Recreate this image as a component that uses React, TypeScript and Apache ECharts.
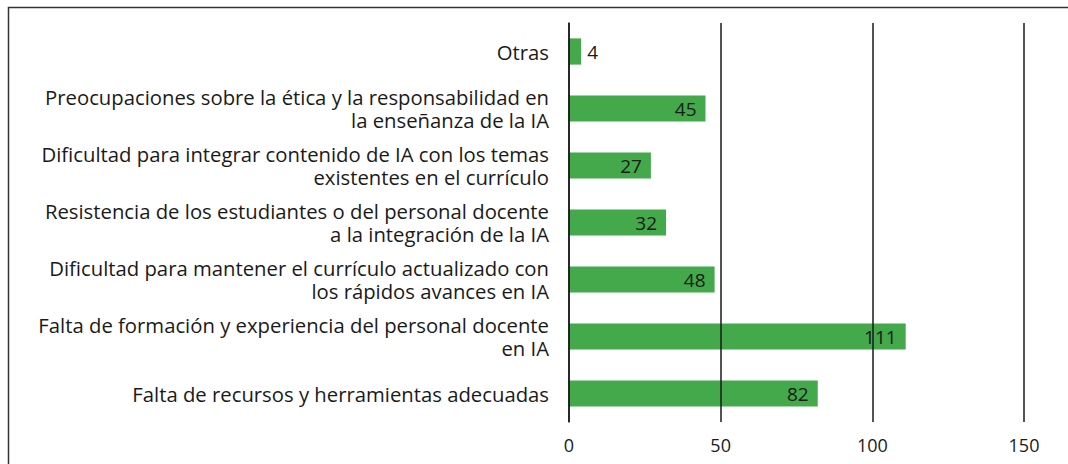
import React, { useEffect, useRef } from "react";
import * as echarts from "echarts";

const categories = [
  "Falta de recursos y herramientas adecuadas",
  "Falta de formación y experiencia del personal docente\nen IA",
  "Dificultad para mantener el currículo actualizado con\nlos rápidos avances en IA",
  "Resistencia de los estudiantes o del personal docente\na la integración de la IA",
  "Dificultad para integrar contenido de IA con los temas\nexistentes en el currículo",
  "Preocupaciones sobre la ética y la responsabilidad en\nla enseñanza de la IA",
  "Otras",
];
const values = [82, 111, 48, 32, 27, 45, 4];
const xTicks = { min: 0, max: 150, interval: 50 };

const FONT = "'Open Sans', sans-serif";

export default function App() {
  const ref = useRef<HTMLDivElement>(null);
  useEffect(() => {
    const chart = echarts.init(ref.current!, null, { renderer: "svg" });
    chart.setOption({
      animation: false,
      backgroundColor: "#ffffff",
      grid: { left: 569, right: 44, top: 23, bottom: 42, containLabel: false },
      xAxis: {
        type: "value",
        min: xTicks.min,
        max: xTicks.max,
        interval: xTicks.interval,
        z: 5,
        axisLine: { show: false },
        axisTick: { show: false },
        splitLine: { show: true, lineStyle: { color: "#1a1a1a", width: 1.5 } },
        axisLabel: { color: "#1a1a1a", fontSize: 18, fontFamily: FONT, margin: 14 },
      },
      yAxis: {
        type: "category",
        data: categories,
        z: 5,
        axisLine: { show: true, lineStyle: { color: "#1a1a1a", width: 1.5 } },
        axisTick: { show: false },
        axisLabel: {
          color: "#1a1a1a",
          fontSize: 20.3,
          fontFamily: FONT,
          margin: 20,
          lineHeight: 23,
          align: "right",
        },
      },
      series: [
        {
          type: "bar",
          data: values.map((v) => ({
            value: v,
            label:
              v < 10
                ? { position: "right", distance: 6 }
                : { position: "insideRight", distance: 9 },
          })),
          barCategoryGap: "54%",
          itemStyle: { color: "#43a94b" },
          label: {
            show: true,
            color: "#1a1a1a",
            fontSize: 19,
            fontFamily: FONT,
          },
        },
      ],
      graphic: [
        {
          type: "polyline",
          shape: { points: [[8.5, 470], [8.5, 7.5], [1070, 7.5]] },
          style: { stroke: "#333333", lineWidth: 1.5, fill: "none" },
          silent: true,
        },
      ],
    });
    return () => chart.dispose();
  }, []);
  return (
    <div
      ref={ref}
      style={{ position: "fixed", left: 0, top: 0, width: 1068, height: 464 }}
    />
  );
}
